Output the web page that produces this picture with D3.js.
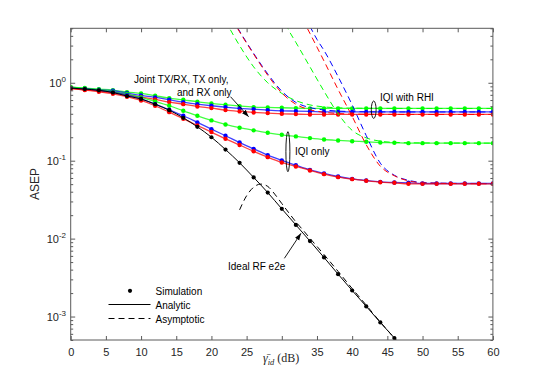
<!DOCTYPE html>
<html><head><meta charset="utf-8">
<script src="https://cdn.jsdelivr.net/npm/d3@7"></script>
<style>body{margin:0;background:#fff}</style>
</head><body><svg id="c" width="545" height="382"></svg>
<script>
// ---------- data ----------
const xTicks = [0,5,10,15,20,25,30,35,40,45,50,55,60];
const xTickLabels = ["0","5","10","15","20","25","","35","40","45","50","55","60"];
const yTickExps = [0,-1,-2,-3];

const snr = [0,2,4,6,8,10,12,14,16,18,20,22,24,26,28,30,32,34,36,38,40,42,44,46,48,50,52,54,56,58,60];

// IQI with RHI (upper group)
const rhiGreen = [0.880,0.855,0.829,0.805,0.759,0.730,0.681,0.636,0.605,0.570,0.543,0.522,0.502,0.487,0.482,0.478,0.473,0.468,0.468,0.468,0.468,0.468,0.468,0.468,0.468,0.468,0.468,0.468,0.468,0.468,0.468];
const rhiBlue  = [0.855,0.838,0.813,0.790,0.737,0.688,0.648,0.605,0.565,0.532,0.507,0.487,0.468,0.459,0.446,0.437,0.433,0.429,0.422,0.422,0.422,0.422,0.422,0.422,0.422,0.422,0.422,0.422,0.422,0.422,0.422];
const rhiRed   = [0.846,0.813,0.782,0.751,0.701,0.655,0.611,0.565,0.532,0.497,0.473,0.446,0.429,0.416,0.408,0.400,0.396,0.392,0.392,0.392,0.392,0.392,0.392,0.392,0.392,0.392,0.392,0.392,0.392,0.392,0.392];
// IQI only (lower group)
const iqiGreen = [0.880,0.846,0.813,0.767,0.716,0.648,0.576,0.507,0.437,0.377,0.329,0.292,0.265,0.245,0.228,0.215,0.205,0.195,0.187,0.182,0.178,0.175,0.171,0.170,0.168,0.168,0.168,0.168,0.168,0.168,0.168];
const iqiBlue  = [0.855,0.829,0.797,0.751,0.694,0.623,0.532,0.450,0.377,0.310,0.254,0.209,0.171,0.142,0.118,0.101,0.0875,0.0763,0.0686,0.0627,0.0585,0.0557,0.0535,0.0525,0.052,0.051,0.051,0.051,0.051,0.051,0.051];
const iqiRed   = [0.846,0.805,0.767,0.723,0.662,0.593,0.507,0.420,0.345,0.283,0.233,0.191,0.159,0.132,0.111,0.095,0.0844,0.075,0.0672,0.0615,0.058,0.0552,0.053,0.052,0.0505,0.0505,0.0505,0.0505,0.0505,0.0505,0.0505];

// Ideal RF e2e
const idealSnr = [0,2,4,6,8,10,12,14,16,18,20,22,24,26,28,30,32,34,36,38,40,42,44,46];
const idealSim = [0.855,0.83,0.80,0.75,0.675,0.62,0.53,0.445,0.355,0.272,0.20,0.139,0.094,0.061,0.039,0.0241,0.0150,0.0093,0.00573,0.0035,0.00216,0.00135,0.00084,0.00053];
const idealAnaSnr = [0,2,4,6,8,10,12,14,16,18,20,22,24,26,28,30,32,34,36,38,40,42,44,46,48];
const idealAna = [0.855,0.83,0.80,0.75,0.675,0.62,0.53,0.445,0.355,0.272,0.20,0.139,0.094,0.061,0.039,0.0241,0.0150,0.0093,0.00573,0.0035,0.00216,0.00135,0.00084,0.00053,0.00033];
const idealAsySnr = [24,25,26,27,28,29,30,31,32,33,34,35,36,38,40,42,44,46,48];
const idealAsy = [0.0234,0.0355,0.0457,0.0501,0.0468,0.0372,0.0282,0.0214,0.0164,0.0129,0.0101,0.00794,0.00624,0.0038,0.00229,0.0014,0.00085,0.00053,0.00033];

// asymptotes, IQI with RHI
const asyRhiGreenSnr = [22,24,26,28,30,32,34,36,38,40,44,50,60];
const asyRhiGreen    = [6.2,3.0,1.6,1.0,0.73,0.59,0.52,0.49,0.477,0.472,0.469,0.468,0.468];
const asyRhiBlueSnr  = [23,24,26,28,30,32,34,36,38,40,44,50,60];
const asyRhiBlue     = [6.5,4.6,2.38,1.3,0.78,0.56,0.48,0.448,0.433,0.427,0.423,0.422,0.422];
const asyRhiRedSnr   = [23,24,26,28,30,32,34,36,38,40,44,50,60];
const asyRhiRed      = [6.4,4.5,2.33,1.25,0.74,0.53,0.45,0.418,0.403,0.397,0.393,0.392,0.392];
// asymptotes, IQI only
const asyIqiGreenSnr = [30,31,32,34,36,38,40,42,44,46,50,60];
const asyIqiGreen    = [7.5,4.7,3.3,1.6,0.78,0.40,0.245,0.196,0.178,0.172,0.169,0.168];
const asyIqiBlueSnr  = [34,35,36,38,40,42,44,46,48,50,54,60];
const asyIqiBlue     = [5.3,3.6,2.6,1.2,0.52,0.21,0.093,0.065,0.056,0.0525,0.0512,0.051];
const asyIqiRedSnr   = [33,34,36,38,40,42,44,46,48,50,54,60];
const asyIqiRed      = [6.4,4.3,1.9,0.82,0.37,0.16,0.085,0.064,0.055,0.052,0.051,0.0505];

// ---------- drawing ----------
const svg = d3.select('#c');
const L=70.7, R=492.9, T=28.3, B=340;
const x = d3.scaleLinear().domain([0,60]).range([L,R]);
const y = d3.scaleLog().domain([5e-4,5]).range([B,T]);
const AX = '#5a5a5a', TXT = '#262626';
const FONT = '"Liberation Sans", Arial, Helvetica, sans-serif';
const SERIF = '"Liberation Serif", "DejaVu Serif", serif';

svg.append('rect').attr('width',545).attr('height',382).attr('fill','#fff');
svg.append('defs').append('clipPath').attr('id','clip')
  .append('rect').attr('x',L).attr('y',T).attr('width',R-L).attr('height',B-T);
svg.select('defs').append('marker').attr('id','arr').attr('viewBox','0 0 10 10')
  .attr('refX',10).attr('refY',5).attr('markerWidth',7).attr('markerHeight',7)
  .attr('orient','auto').attr('markerUnits','userSpaceOnUse')
  .append('path').attr('d','M0,1.5 L10,5 L0,8.5 Z').attr('fill','#000');

const plot = svg.append('g').attr('clip-path','url(#clip)');
const line = d3.line().x(d=>x(d[0])).y(d=>y(d[1])).curve(d3.curveMonotoneX);
const zip = (a,b)=>a.map((v,i)=>[v,b[i]]);

const colored = [
  [rhiGreen,'#00ff00'],[rhiBlue,'#0000ff'],[rhiRed,'#ff0000'],
  [iqiGreen,'#00ff00'],[iqiBlue,'#0000ff'],[iqiRed,'#ff0000']
];
colored.forEach(([vals,c])=>{
  plot.append('path').attr('d',line(zip(snr,vals))).attr('fill','none')
    .attr('stroke',c).attr('stroke-width',1.3).attr('stroke-opacity',0.75);
});
colored.forEach(([vals,c])=>{
  plot.append('g').selectAll('circle').data(zip(snr,vals)).join('circle')
    .attr('cx',d=>x(d[0])).attr('cy',d=>y(d[1])).attr('r',2.2).attr('fill',c);
});

const asy = [
  [asyRhiGreenSnr,asyRhiGreen,'#00ff00'],[asyRhiBlueSnr,asyRhiBlue,'#0000ff'],[asyRhiRedSnr,asyRhiRed,'#ff0000'],
  [asyIqiGreenSnr,asyIqiGreen,'#00ff00'],[asyIqiBlueSnr,asyIqiBlue,'#0000ff'],[asyIqiRedSnr,asyIqiRed,'#ff0000']
];
asy.forEach(([xs,vs,c])=>{
  plot.append('path').attr('d',line(zip(xs,vs))).attr('fill','none')
    .attr('stroke',c).attr('stroke-width',1).attr('stroke-dasharray','6,4');
});

// ideal
plot.append('path').attr('d',line(zip(idealAnaSnr,idealAna))).attr('fill','none')
  .attr('stroke','#000').attr('stroke-width',1);
plot.append('path').attr('d',line(zip(idealAsySnr,idealAsy))).attr('fill','none')
  .attr('stroke','#000').attr('stroke-width',1).attr('stroke-dasharray','6,4');
plot.append('g').selectAll('circle').data(zip(idealSnr,idealSim)).join('circle')
  .attr('cx',d=>x(d[0])).attr('cy',d=>y(d[1])).attr('r',2.1).attr('fill','#000');

// ---------- axes ----------
const axG = svg.append('g');
axG.append('rect').attr('x',L).attr('y',T).attr('width',R-L).attr('height',B-T)
  .attr('fill','none').attr('stroke',AX).attr('stroke-width',1);
function styleAxis(g){
  g.select('.domain').remove();
  g.selectAll('line').attr('stroke',AX);
  g.selectAll('text').attr('fill',TXT).style('font-family',FONT);
}
axG.append('g').attr('transform',`translate(0,${B})`)
  .call(d3.axisBottom(x).tickValues(xTicks).tickSize(-4).tickPadding(8).tickFormat((d,i)=>xTickLabels[i]))
  .call(styleAxis).selectAll('text').style('font-size','11px');
axG.append('g').attr('transform',`translate(0,${T})`)
  .call(d3.axisTop(x).tickValues(xTicks).tickSize(-4).tickFormat(''))
  .call(styleAxis);
const yMajor = yTickExps.map(e=>Math.pow(10,e));
const yMinor = [];
[-4,-3,-2,-1,0].forEach(e=>{for(let k=2;k<=9;k++){const v=k*Math.pow(10,e); if(v>=5e-4&&v<=5) yMinor.push(v);}});
[[d3.axisLeft,L],[d3.axisRight,R]].forEach(([ax,px])=>{
  axG.append('g').attr('transform',`translate(${px},0)`)
    .call(ax(y).tickValues(yMajor).tickSize(-4.5).tickFormat('')).call(styleAxis);
  axG.append('g').attr('transform',`translate(${px},0)`)
    .call(ax(y).tickValues(yMinor).tickSize(-2.5).tickFormat('')).call(styleAxis);
});
// y tick labels 10^n
yTickExps.forEach(e=>{
  const t = svg.append('text').attr('x',66).attr('y',y(Math.pow(10,e))+4)
    .attr('text-anchor','end').attr('fill',TXT).style('font-family',FONT).style('font-size','11px');
  t.append('tspan').text('10');
  t.append('tspan').attr('dy',-5).style('font-size','8px').text(String(e));
});

// axis titles
svg.append('text').attr('transform','translate(39,184) rotate(-90)').attr('text-anchor','middle')
  .attr('fill',TXT).style('font-family',FONT).style('font-size','12px').text('ASEP');
const xl = svg.append('text').attr('x',263).attr('y',362).attr('fill',TXT)
  .style('font-family',SERIF).style('font-size','12px');
xl.append('tspan').style('font-style','italic').text('\u03B3\u0304');
xl.append('tspan').attr('dy',2.5).style('font-style','italic').style('font-size','8.5px').text('id');
xl.append('tspan').attr('dy',-2.5).text(' (dB)');

// ---------- annotations ----------
const ann = (txt,xx,yy)=>svg.append('text').attr('x',xx).attr('y',yy).attr('fill','#000')
  .style('font-family',FONT).style('font-size','10px').text(txt);
ann('Joint TX/RX, TX only,',134,83);
ann('and RX only',177,95.5);
ann('IQI with RHI',380,100.5);
ann('IQI only',295,155);
ann('Ideal RF e2e',228,269.5);
svg.append('line').attr('x1',230.5).attr('y1',96.7).attr('x2',248.6).attr('y2',116.7)
  .attr('stroke','#000').attr('stroke-width',0.9).attr('marker-end','url(#arr)');
svg.append('line').attr('x1',284.4).attr('y1',258.3).attr('x2',301).attr('y2',233.3)
  .attr('stroke','#000').attr('stroke-width',0.9).attr('marker-end','url(#arr)');
svg.append('ellipse').attr('cx',373.7).attr('cy',109.7).attr('rx',2.4).attr('ry',8.7)
  .attr('fill','none').attr('stroke','#000').attr('stroke-width',0.9);
svg.append('ellipse').attr('cx',287.9).attr('cy',151.7).attr('rx',2).attr('ry',20)
  .attr('fill','none').attr('stroke','#000').attr('stroke-width',0.9);

// ---------- legend ----------
svg.append('circle').attr('cx',130).attr('cy',290.8).attr('r',2.1).attr('fill','#000');
svg.append('line').attr('x1',108.5).attr('x2',150.5).attr('y1',304.5).attr('y2',304.5).attr('stroke','#000');
svg.append('line').attr('x1',108.5).attr('x2',150.5).attr('y1',318.5).attr('y2',318.5)
  .attr('stroke','#000').attr('stroke-dasharray','6,4');
ann('Simulation',155.5,295.3);
ann('Analytic',155.5,308.8);
ann('Asymptotic',155.5,322.5);
</script></body></html>
